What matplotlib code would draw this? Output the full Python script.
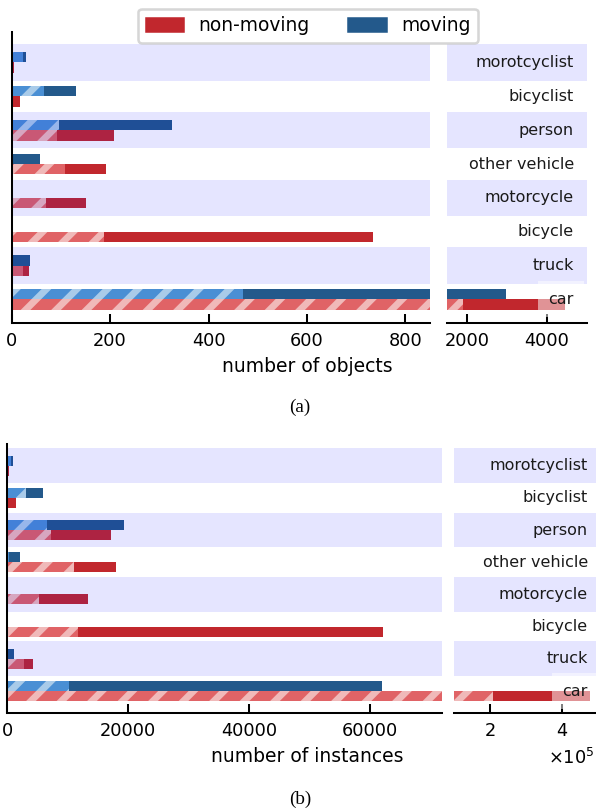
import numpy as np
import matplotlib
matplotlib.use('Agg')
import matplotlib.pyplot as plt
from matplotlib.patches import Patch

# ----------------------------
# data (top row first)
# ----------------------------
categories = ['morotcyclist', 'bicyclist', 'person', 'other vehicle',
              'motorcycle', 'bicycle', 'truck', 'car']

# (a) number of objects
obj_moving        = [30, 131, 326, 58, 0, 0, 38, 2980]
obj_moving_hatch  = [22, 66, 96, 1, 0, 0, 2, 469]
obj_still         = [5, 17, 208, 192, 151, 734, 36, 4460]
obj_still_hatch   = [0, 0, 92, 108, 70, 187, 22, 1910]

# (b) number of instances
inst_moving       = [900, 5900, 19400, 2100, 0, 0, 1150, 62000]
inst_moving_hatch = [600, 3100, 6600, 300, 0, 0, 0, 10200]
inst_still        = [250, 1450, 17200, 18000, 13400, 62200, 4250, 477000]
inst_still_hatch  = [150, 0, 7250, 11100, 5250, 11700, 2750, 209000]

# colours
RED, RED_H, RED_S = '#c1272d', '#e06366', '#f0b9b9'
BLUE, BLUE_H, BLUE_S = '#23598b', '#4a8fd4', '#a9cbe9'

DPI = 183
W, H = 596, 809
plt.rcParams['hatch.linewidth'] = 2.7
plt.rcParams['font.size'] = 7

fig = plt.figure(figsize=(W / DPI, H / DPI), dpi=DPI)


def px_axes(x0, x1, y0, y1):
    return fig.add_axes([x0 / W, 1 - y1 / H, (x1 - x0) / W, (y1 - y0) / H])


def draw_bars(ax, moving, moving_h, still, still_h):
    y = np.arange(len(categories))[::-1]
    ax.barh(y + 0.155, moving_h, height=0.31, color=BLUE_H, edgecolor=BLUE_S,
            hatch='//', linewidth=0, zorder=1)
    ax.barh(y + 0.155, np.subtract(moving, moving_h), left=moving_h, height=0.31,
            color=BLUE, linewidth=0, zorder=1)
    ax.barh(y - 0.155, still_h, height=0.31, color=RED_H, edgecolor=RED_S,
            hatch='//', linewidth=0, zorder=1)
    ax.barh(y - 0.155, np.subtract(still, still_h), left=still_h, height=0.31,
            color=RED, linewidth=0, zorder=1)
    # shaded rows drawn over the bars (tints them)
    for yy in y[::2]:
        ax.axhspan(yy - 0.54, yy + 0.54, color='blue', alpha=0.1, lw=0, zorder=1.5)
    ax.set_yticks([])
    ax.tick_params(axis='x', direction='in', labelsize=7)
    ax.spines['top'].set_visible(False)
    ax.spines['right'].set_visible(False)


def add_labels(ax, xfrac):
    y = np.arange(len(categories))[::-1]
    for name, yy in zip(categories, y):
        kw = {}
        if name == 'car':
            kw['bbox'] = dict(boxstyle='square,pad=0.65', fc='white', ec='none', alpha=0.5)
        ax.text(xfrac, yy, name, transform=ax.get_yaxis_transform(),
                ha='right', va='center', fontsize=6.3, color='#1a1a1a', zorder=3, **kw)


def panel(top, bottom, ylim, left_box, right_box, data, xlim_l, xlim_r,
          ticks_l, ticks_r, label_frac):
    axl = px_axes(left_box[0], left_box[1], top, bottom)
    axr = px_axes(right_box[0], right_box[1], top, bottom)
    for ax in (axl, axr):
        draw_bars(ax, *data)
        ax.set_ylim(*ylim)
    axl.set_xlim(*xlim_l)
    axr.set_xlim(*xlim_r)
    axl.set_xticks(ticks_l)
    axr.set_xticks(ticks_r)
    axr.spines['left'].set_visible(False)
    add_labels(axr, label_frac)
    return axl, axr


# (a)
axa_l, axa_r = panel(31.7, 322.7, (-0.69, 7.91), (11.7, 430), (447, 587),
                     (obj_moving, obj_moving_hatch, obj_still, obj_still_hatch),
                     (0, 850), (1500, 5000), [0, 200, 400, 600, 800], [2000, 4000], 0.907)

# (b)
axb_l, axb_r = panel(444, 713.3, (-0.69, 7.67), (7.3, 442), (453.7, 598),
                     (inst_moving, inst_moving_hatch, inst_still, inst_still_hatch),
                     (0, 72000), (100000, 500000), [0, 20000, 40000, 60000],
                     [200000, 400000], 0.929)
axb_r.ticklabel_format(axis='x', style='sci', scilimits=(5, 5), useMathText=True)
axb_r.xaxis.get_offset_text().set_fontsize(7)
axb_r.xaxis.get_offset_text().set_x(0.975)

fig.text(307 / W, 1 - 372 / H, 'number of objects', ha='center', va='baseline', fontsize=7.4)
fig.text(307 / W, 1 - 762 / H, 'number of instances', ha='center', va='baseline', fontsize=7.4)

serif = ['Liberation Serif', 'DejaVu Serif']
fig.text(300 / W, 1 - 407 / H, '(a)', ha='center', va='center', fontsize=7.5, family=serif)
fig.text(300 / W, 1 - 799 / H, '(b)', ha='center', va='center', fontsize=7.5, family=serif)

fig.legend(handles=[Patch(color=RED, label='non-moving'), Patch(color=BLUE, label='moving')],
           loc='upper center', bbox_to_anchor=(308 / W, 1 - 8.7 / H), ncol=2,
           fontsize=7.35, columnspacing=2.1, borderaxespad=0)

fig.savefig('out.png', dpi=DPI)
